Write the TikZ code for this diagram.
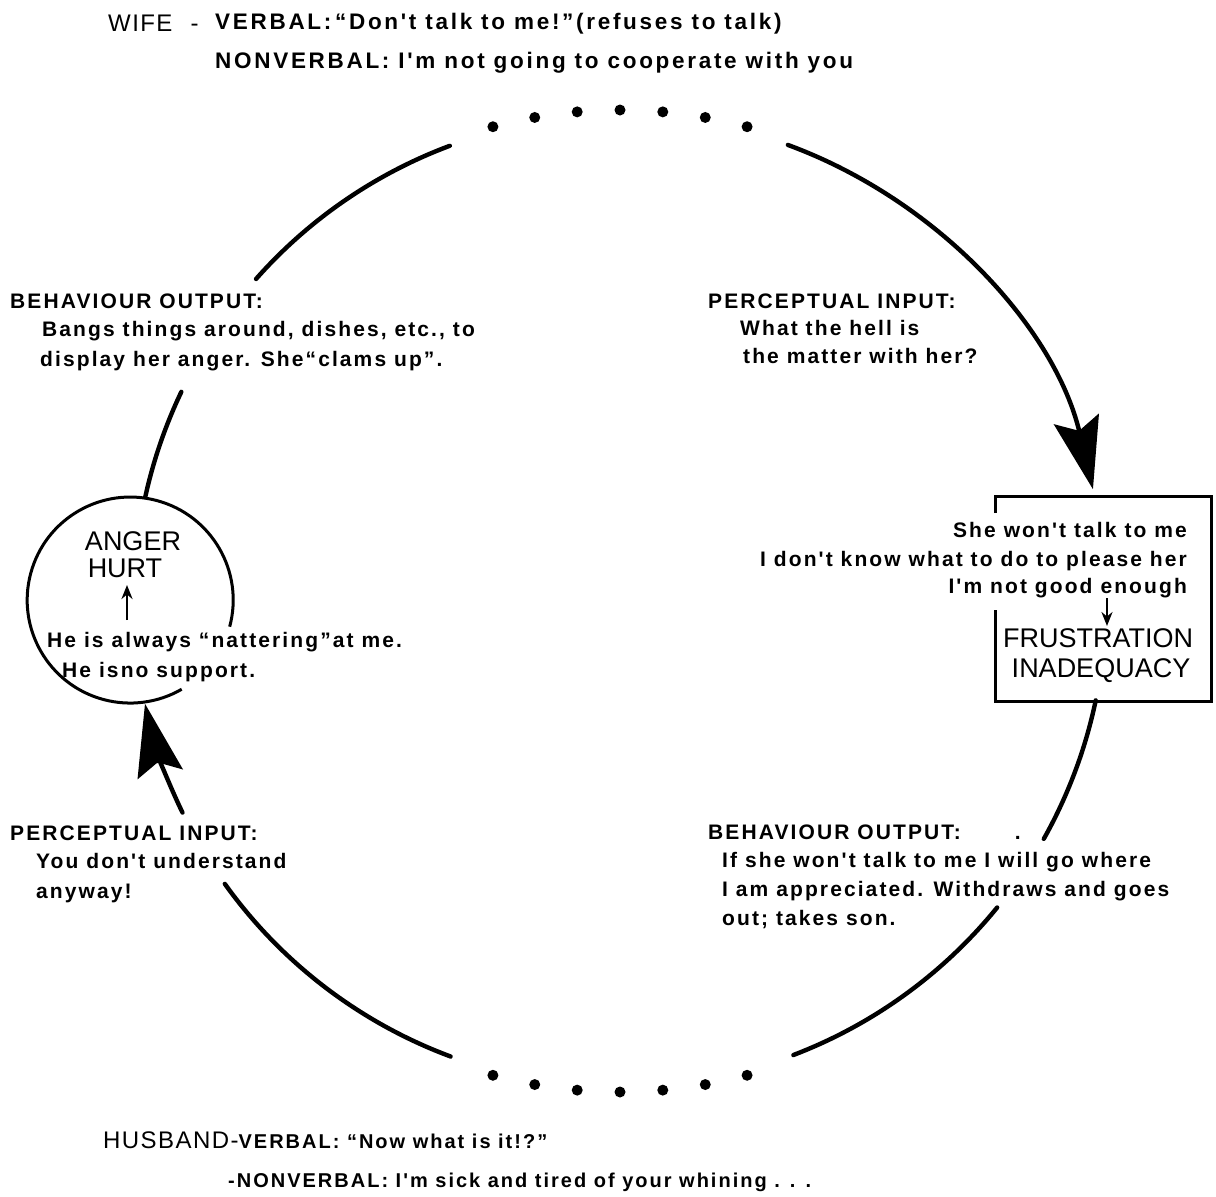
\documentclass[tikz,border=0pt]{standalone}
\usepackage{fontspec}
\setmainfont{Liberation Sans}
\newfontfamily\typed{Liberation Sans}[LetterSpace=10]
\newfontfamily\wide{Liberation Sans}[LetterSpace=12]
\newfontfamily\headfont{Liberation Sans}[LetterSpace=6]
\usetikzlibrary{arrows.meta}

\begin{document}
\begin{tikzpicture}[x=1pt,y=1pt,
  txt/.style={inner sep=0pt, anchor=base west,
    font=\typed\bfseries\fontsize{21}{24}\selectfont},
  toptxt/.style={txt, font=\wide\bfseries\fontsize{22.5}{26}\selectfont},
  bottxt/.style={txt, font=\typed\bfseries\fontsize{20}{24}\selectfont},
  txtr/.style={txt, anchor=base east},
  head/.style={inner sep=0pt, anchor=base west, font=\headfont\fontsize{24}{28}\selectfont},
  feel/.style={inner sep=0pt, anchor=base, font=\fontsize{27}{30}\selectfont},
  loop/.style={line width=4.4pt, line cap=round},
  bighead/.style={-{Stealth[length=72pt,width=46pt,inset=12pt]}},
  smallhead/.style={line width=2.6pt, -{Stealth[length=14pt,width=11pt]}},
  dot/.style={circle, fill=black, inner sep=0pt, minimum size=11pt},
]
\useasboundingbox (0,0) rectangle (1216,-1197);

% centre of the big cycle
\coordinate (c) at (620,-601);

% start points of the arc pieces
\path (c) ++(110.5:486) coordinate (tlA);
\path (c) ++(154.5:486) coordinate (lA);
\path (c) ++(205.8:486) coordinate (llA);
\path (c) ++(215.6:486) coordinate (blA);
\path (c) ++(290.9:486) coordinate (brA);
\path (c) ++(330.7:486) coordinate (rlA);
\path (c) ++(69.8:486) coordinate (ruA);

% the cycle, in pieces
\draw[loop] (tlA) arc[start angle=110.5, end angle=138.5, radius=486];
\draw[loop] (lA) arc[start angle=154.5, end angle=172, radius=486];
\draw[loop, bighead] (llA) arc[start angle=205.8, end angle=192.2, radius=486];
\draw[loop] (blA) arc[start angle=215.6, end angle=249.6, radius=486];
\draw[loop] (brA) arc[start angle=290.9, end angle=320.9, radius=486];
\draw[loop] (rlA) arc[start angle=330.7, end angle=348.2, radius=486];
\draw[loop, bighead] (ruA) arc[start angle=69.8, end angle=13.3, radius=486];

% dotted stretches at top and bottom
\foreach \a [count=\i] in {75,80,...,105}
  \path (c) ++(\a:491) node[dot] (td\i) {};
\foreach \a [count=\i] in {255,260,...,285}
  \path (c) ++(\a:491) node[dot] (bd\i) {};

% wife's feeling circle
\node[circle, minimum size=206pt, inner sep=0pt, fill=white] (ring) at (130,-600) {};
\draw[line width=3pt] (ring.-15) arc[start angle=-15, end angle=300, radius=103];

% husband's feeling box
\coordinate (b1) at (995,-513);
\coordinate (b2) at (995,-496);
\coordinate (b3) at (1211,-496);
\coordinate (b4) at (1211,-701);
\coordinate (b5) at (995,-701);
\coordinate (b6) at (995,-610);
\draw[line width=3pt] (b1) -- (b2) -- (b3) -- (b4) -- (b5) -- (b6);

% headings
\node[head] (wife) at (108,-31) {WIFE\hspace{18pt}-};
\node[toptxt] (wverb) at (215,-29) {VERBAL:\,“Don't talk to me!”(refuses to talk)};
\node[toptxt] (wnon) at (215,-68) {NONVERBAL: I'm not going to cooperate with you};

\node[bottxt] (husb) at (103,-1148) {{\headfont\mdseries\fontsize{24}{28}\selectfont HUSBAND-}VERBAL: “Now what is it!?”};
\node[bottxt] (hnon) at (228,-1187) {-NONVERBAL: I'm sick and tired of your whining . . .};

% wife: behaviour output
\node[txt] (lbo) at (10,-308) {BEHAVIOUR OUTPUT:};
\node[txt] (lb1) at (42,-336) {Bangs things around, dishes, etc., to};
\node[txt] (lb2) at (40,-366) {display her anger. She“clams up”.};

% husband: perceptual input
\node[txt] (rpi) at (708,-308) {PERCEPTUAL INPUT:};
\node[txt] (rp1) at (740,-335) {What the hell is};
\node[txt] (rp2) at (743,-363) {the matter with her?};

% inside the circle
\node[feel] (anger) at (133,-550) {ANGER};
\node[feel] (hurt) at (125,-577) {HURT};
\node[txt] (h1) at (47,-647) {He is always “nattering”at me.};
\node[txt] (h2) at (62,-677) {He isno support.};
\coordinate (ua) at (127,-620);
\coordinate (ub) at (127,-585);
\draw[smallhead] (ua) -- (ub);

% inside the box
\node[txtr] (s1) at (1187,-537) {She won't talk to me};
\node[txtr] (s2) at (1187,-566) {I don't know what to do to please her};
\node[txtr] (s3) at (1187,-593) {I'm not good enough};
\node[feel] (frus) at (1098,-647) {FRUSTRATION};
\node[feel] (inad) at (1101,-677) {INADEQUACY};
\coordinate (da) at (1107,-598);
\coordinate (db) at (1107,-626);
\draw[smallhead] (da) -- (db);

% wife: perceptual input
\node[txt] (lpi) at (10,-840) {PERCEPTUAL INPUT:};
\node[txt] (lp1) at (36,-868) {You don't understand};
\node[txt] (lp2) at (36,-898) {anyway!};

% husband: behaviour output
\node[txt] (rbo) at (708,-839) {BEHAVIOUR OUTPUT:\hspace{54pt}.};
\node[txt] (rb1) at (722,-867) {If she won't talk to me I will go where};
\node[txt] (rb2) at (722,-896) {I am appreciated. Withdraws and goes};
\node[txt] (rb3) at (722,-925) {out; takes son.};
\end{tikzpicture}
\end{document}
